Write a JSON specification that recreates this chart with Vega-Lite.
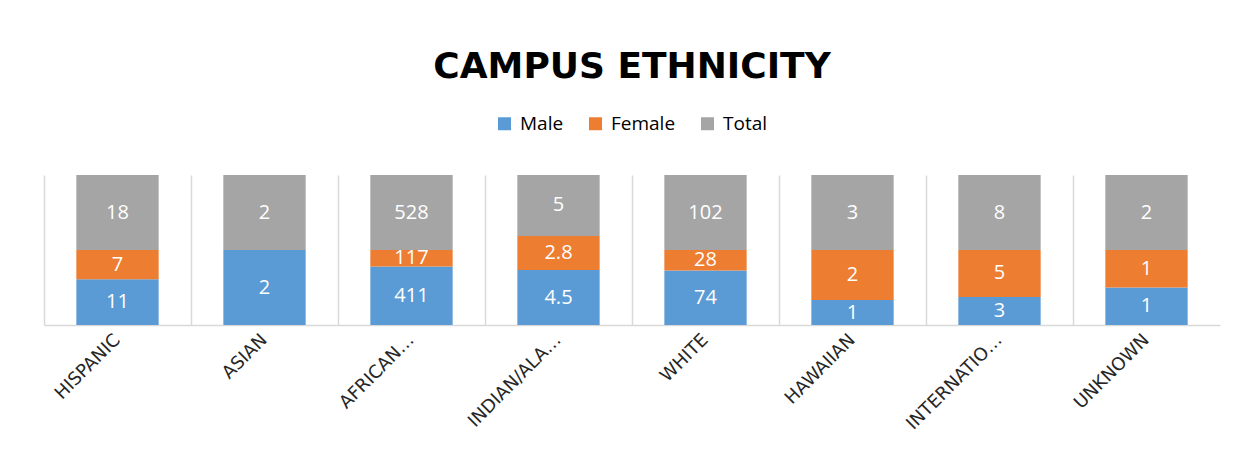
{
  "$schema": "https://vega.github.io/schema/vega-lite/v6.json",
  "autosize": "none",
  "width": 1176,
  "height": 150,
  "padding": {"left": 44, "top": 175, "right": 26, "bottom": 141},
  "background": "white",
  "title": {
    "text": "CAMPUS ETHNICITY",
    "anchor": "middle",
    "frame": "group",
    "font": "DejaVu Sans",
    "fontSize": 36,
    "fontWeight": "bold",
    "color": "#000000",
    "offset": 28
  },
  "data": {
    "values": [
      {"group": "HISPANIC", "series": "Male", "k": 1, "value": 11},
      {"group": "HISPANIC", "series": "Female", "k": 2, "value": 7},
      {"group": "HISPANIC", "series": "Total", "k": 3, "value": 18},
      {"group": "ASIAN", "series": "Male", "k": 1, "value": 2},
      {"group": "ASIAN", "series": "Total", "k": 3, "value": 2},
      {"group": "AFRICAN…", "series": "Male", "k": 1, "value": 411},
      {"group": "AFRICAN…", "series": "Female", "k": 2, "value": 117},
      {"group": "AFRICAN…", "series": "Total", "k": 3, "value": 528},
      {"group": "INDIAN/ALA…", "series": "Male", "k": 1, "value": 4.5},
      {"group": "INDIAN/ALA…", "series": "Female", "k": 2, "value": 2.8},
      {"group": "INDIAN/ALA…", "series": "Total", "k": 3, "value": 5},
      {"group": "WHITE", "series": "Male", "k": 1, "value": 74},
      {"group": "WHITE", "series": "Female", "k": 2, "value": 28},
      {"group": "WHITE", "series": "Total", "k": 3, "value": 102},
      {"group": "HAWAIIAN", "series": "Male", "k": 1, "value": 1},
      {"group": "HAWAIIAN", "series": "Female", "k": 2, "value": 2},
      {"group": "HAWAIIAN", "series": "Total", "k": 3, "value": 3},
      {"group": "INTERNATIO…", "series": "Male", "k": 1, "value": 3},
      {"group": "INTERNATIO…", "series": "Female", "k": 2, "value": 5},
      {"group": "INTERNATIO…", "series": "Total", "k": 3, "value": 8},
      {"group": "UNKNOWN", "series": "Male", "k": 1, "value": 1},
      {"group": "UNKNOWN", "series": "Female", "k": 2, "value": 1},
      {"group": "UNKNOWN", "series": "Total", "k": 3, "value": 2}
    ]
  },
  "encoding": {
    "x": {
      "field": "group",
      "type": "nominal",
      "sort": null,
      "scale": {"paddingInner": 0, "paddingOuter": 0},
      "axis": {
        "title": null,
        "bandPosition": 0,
        "labelOffset": 0,
        "labelAngle": -45,
        "labelAlign": "right",
        "labelBaseline": "middle",
        "labelFont": "DejaVu Sans",
        "labelFontSize": 18,
        "labelColor": "#262626",
        "labelPadding": 12,
        "labelLimit": 300,
        "ticks": false,
        "grid": true,
        "gridColor": "#d9d9d9",
        "gridWidth": 1.5,
        "domainColor": "#d9d9d9",
        "domainWidth": 1.5
      }
    }
  },
  "layer": [
    {
      "mark": {"type": "bar", "width": {"band": 0.56}},
      "encoding": {
        "y": {
          "field": "value",
          "type": "quantitative",
          "stack": "normalize",
          "axis": {
            "orient": "right",
            "title": null,
            "labels": false,
            "ticks": false,
            "grid": false,
            "domainColor": "#d9d9d9",
            "domainWidth": 1.5
          }
        },
        "order": {"field": "k", "type": "quantitative"},
        "color": {
          "field": "series",
          "type": "nominal",
          "scale": {
            "domain": ["Male", "Female", "Total"],
            "range": ["#5B9BD5", "#ED7D31", "#A5A5A5"]
          },
          "legend": {
            "title": null,
            "orient": "none",
            "direction": "horizontal",
            "legendX": 451,
            "legendY": -61,
            "symbolType": "square",
            "symbolSize": 169,
            "symbolStrokeWidth": 0,
            "symbolOpacity": 1,
            "labelFont": "Open Sans",
            "labelFontSize": 19,
            "labelColor": "#000000",
            "labelOffset": 6,
            "columnPadding": 22
          }
        }
      }
    },
    {
      "mark": {"type": "text", "color": "white", "font": "Open Sans", "fontSize": 20, "baseline": "middle", "align": "center"},
      "encoding": {
        "y": {
          "field": "value",
          "type": "quantitative",
          "stack": "normalize",
          "bandPosition": 0.5,
          "axis": null
        },
        "order": {"field": "k", "type": "quantitative"},
        "detail": {"field": "series", "type": "nominal"},
        "text": {"field": "value", "type": "quantitative"}
      }
    }
  ],
  "config": {"view": {"stroke": null}}
}
